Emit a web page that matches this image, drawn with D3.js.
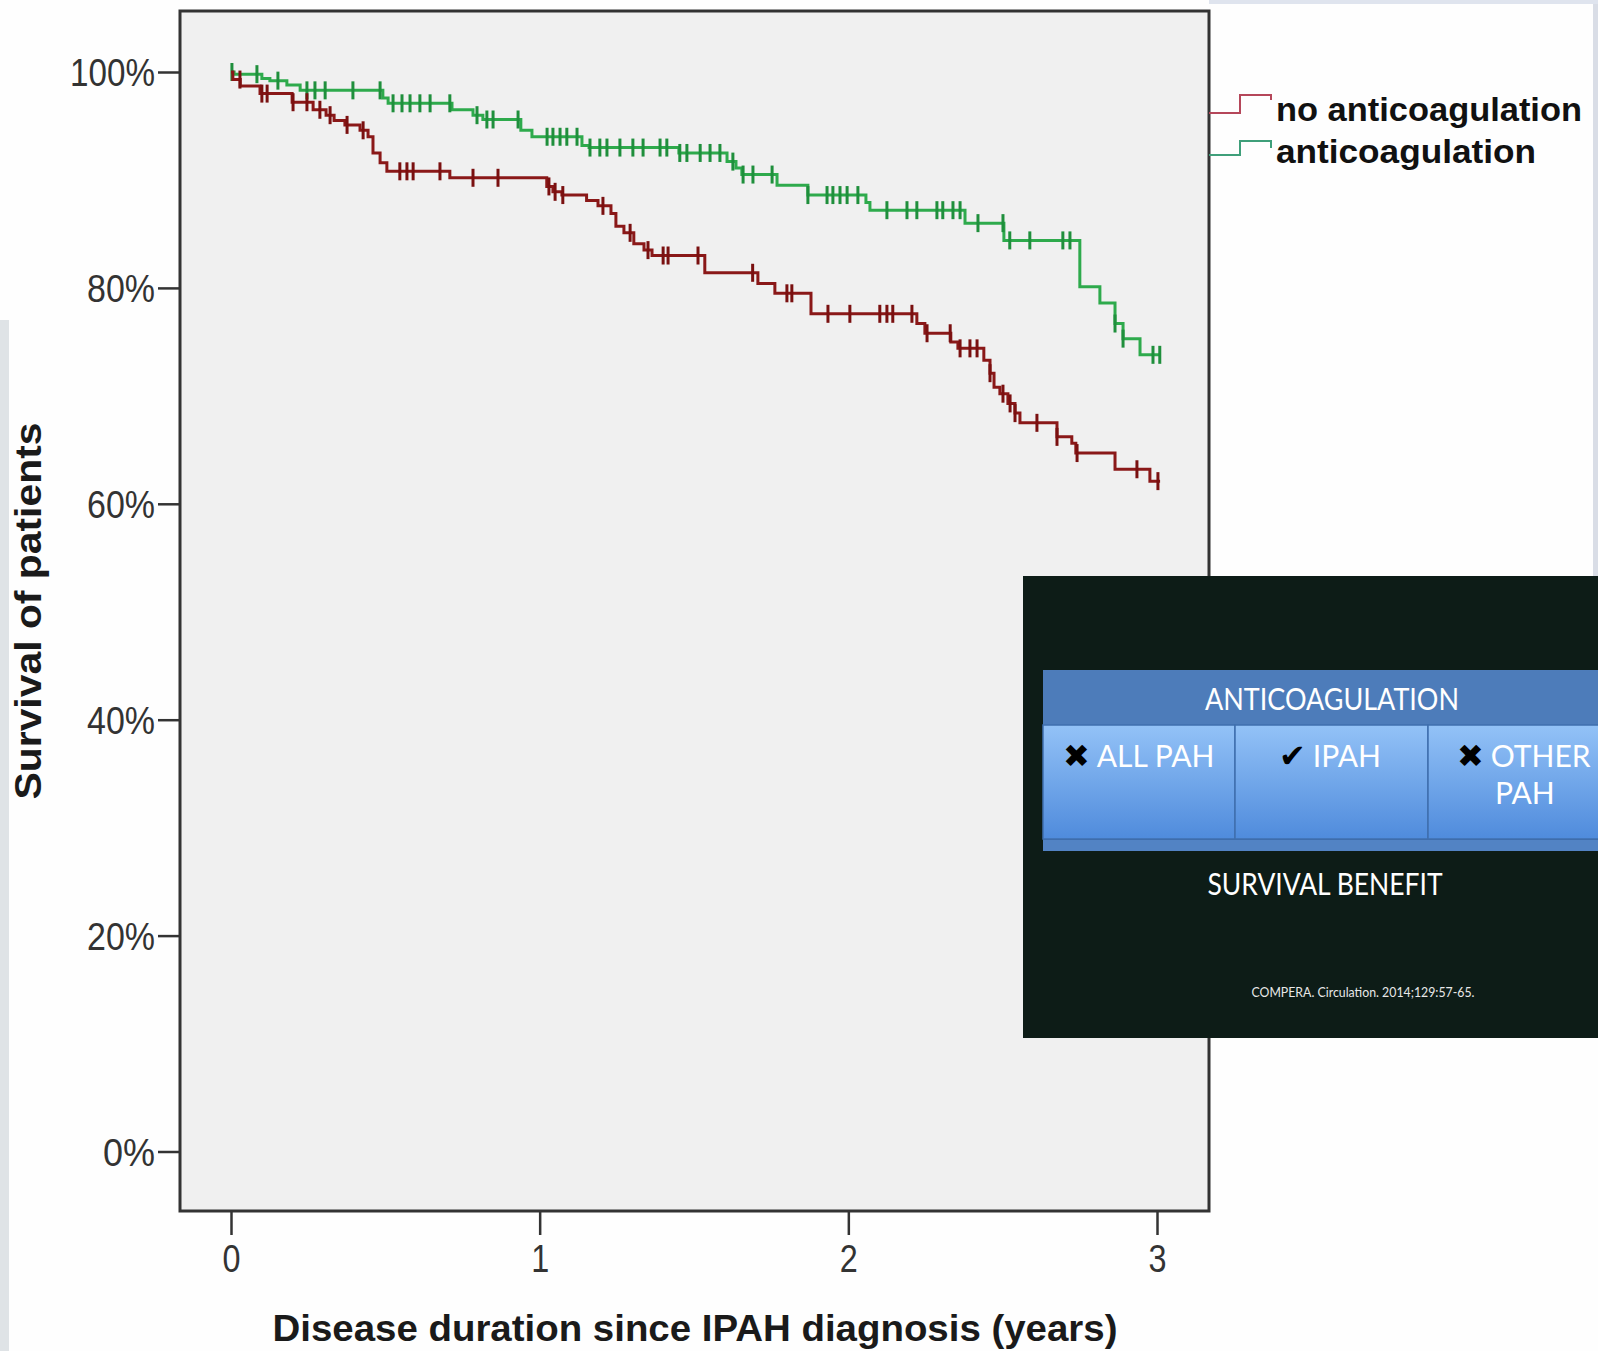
<!DOCTYPE html>
<html>
<head>
<meta charset="utf-8">
<script src="https://cdnjs.cloudflare.com/ajax/libs/d3/7.8.5/d3.min.js"></script>
<style>
  body { margin: 0; background: #fefefe; }
  svg { display: block; }
</style>
</head>
<body>
<div id="chart"></div>
<script>
// Kaplan-Meier step points: time (years) and survival (%) after each step
var redTimes = [0, 0.006, 0.03, 0.094, 0.198, 0.266, 0.308, 0.334, 0.369, 0.418, 0.444, 0.46, 0.483, 0.505, 0.709,
  1.023, 1.043, 1.072, 1.152, 1.189, 1.231, 1.247, 1.273, 1.305, 1.338, 1.364, 1.535, 1.707, 1.762, 1.879,
  2.222, 2.248, 2.332, 2.355, 2.439, 2.459, 2.472, 2.491, 2.517, 2.54, 2.556, 2.676, 2.724, 2.737, 2.864, 2.977, 3.01];
var redSurv = [100, 99.3, 98.7, 98.0, 97.2, 96.5, 96.0, 95.5, 95.1, 94.6, 94.0, 92.5, 91.6, 90.8, 90.2,
  89.4, 88.9, 88.6, 88.1, 87.6, 86.9, 85.7, 85.1, 84.1, 83.5, 83.0, 81.4, 80.4, 79.5, 77.6,
  76.7, 75.8, 75.0, 74.4, 73.3, 72.1, 70.8, 70.2, 69.3, 68.4, 67.5, 66.2, 65.6, 64.7, 63.2, 62.1, 62.1];

var greenTimes = [0, 0.01, 0.1, 0.126, 0.181, 0.224, 0.492, 0.509, 0.716, 0.784, 0.816, 0.939, 0.975, 1.137, 1.16,
  1.451, 1.607, 1.636, 1.655, 1.769, 1.869, 2.057, 2.07, 2.378, 2.504, 2.75, 2.815, 2.864, 2.89, 2.945, 3.01];
var greenSurv = [100, 99.8, 99.4, 99.2, 98.8, 98.3, 97.6, 97.1, 96.5, 96.0, 95.6, 94.6, 94.0, 93.2, 93.0,
  92.5, 91.7, 91.1, 90.5, 89.5, 88.6, 87.9, 87.2, 86.0, 84.4, 80.1, 78.6, 76.7, 75.3, 73.8, 73.8];

// censored observations (years)
var redCensor = [0.029, 0.10, 0.117, 0.201, 0.246, 0.288, 0.321, 0.376, 0.428, 0.547, 0.57, 0.59, 0.677, 0.784, 0.865,
  1.03, 1.05, 1.075, 1.205, 1.293, 1.351, 1.4, 1.416, 1.513, 1.69, 1.801, 1.817, 1.934, 2.005, 2.102, 2.125, 2.144,
  2.206, 2.255, 2.33, 2.362, 2.394, 2.417, 2.459, 2.501, 2.524, 2.54, 2.611, 2.676, 2.741, 2.935, 3.003];
var greenCensor = [0.003, 0.084, 0.152, 0.246, 0.272, 0.305, 0.395, 0.483, 0.525, 0.554, 0.58, 0.612, 0.645, 0.709,
  0.797, 0.829, 0.849, 0.93, 1.024, 1.043, 1.066, 1.088, 1.121, 1.163, 1.195, 1.218, 1.26, 1.302, 1.335, 1.39, 1.412,
  1.454, 1.477, 1.52, 1.552, 1.584, 1.626, 1.659, 1.691, 1.753, 1.869, 1.931, 1.95, 1.973, 1.996, 2.031, 2.125,
  2.19, 2.222, 2.287, 2.306, 2.339, 2.362, 2.42, 2.501, 2.523, 2.588, 2.695, 2.718, 2.864, 2.89, 2.987, 3.009];

var xTicks = [0, 1, 2, 3];
var yTicks = [0, 20, 40, 60, 80, 100];
var yTickLabels = ['0%', '20%', '40%', '60%', '80%', '100%'];
var seriesNames = ['no anticoagulation', 'anticoagulation'];
var boxHeader = 'ANTICOAGULATION';
var boxCells = [['\u2716 ALL PAH'], ['\u2714 IPAH'], ['\u2716 OTHER', 'PAH']];
var boxFooter = 'SURVIVAL BENEFIT';
var boxSource = 'COMPERA. Circulation. 2014;129:57-65.';

var W = 1598, H = 1351;
var plot = {left: 180, top: 11, right: 1209, bottom: 1211};

var svg = d3.select('#chart').append('svg')
    .attr('width', W)
    .attr('height', H);

var xScale = d3.scaleLinear().domain([0, 3]).range([231, 1157]),
    yScale = d3.scaleLinear().domain([0, 100]).range([1151.5, 72]);

// slide background slivers at the edges
svg.append('rect').attr('x', 0).attr('y', 320).attr('width', 9).attr('height', H - 320).style('fill', '#dfe3e6');
svg.append('rect').attr('x', 1593).attr('y', 0).attr('width', 5).attr('height', 580).style('fill', '#d9dde6');
svg.append('rect').attr('x', 1209).attr('y', 0).attr('width', 389).attr('height', 4).style('fill', '#dfe4ee');

// plot panel
svg.append('rect')
    .attr('x', plot.left)
    .attr('y', plot.top)
    .attr('width', plot.right - plot.left)
    .attr('height', plot.bottom - plot.top)
    .style('fill', '#f0f0f0')
    .style('stroke', '#333')
    .style('stroke-width', 3);

// axes
var yAxis = svg.append('g')
    .attr('transform', 'translate(' + plot.left + ',0)')
    .call(d3.axisLeft(yScale).tickValues(yTicks).tickSize(22).tickPadding(3)
      .tickFormat(function(d, i) { return yTickLabels[i]; }));
yAxis.select('.domain').remove();
yAxis.selectAll('line').style('stroke', '#333').style('stroke-width', 2.5);
yAxis.selectAll('text')
    .style('font-family', 'Liberation Sans, Arial, sans-serif')
    .style('font-size', '38px')
    .style('fill', '#333')
    .attr('dy', '0.36em')
    .attr('lengthAdjust', 'spacingAndGlyphs')
    .attr('textLength', function(d) { return d === 100 ? 85 : (d === 0 ? 52 : 68); });

var xAxis = svg.append('g')
    .attr('transform', 'translate(0,' + plot.bottom + ')')
    .call(d3.axisBottom(xScale).tickValues(xTicks).tickSize(24).tickPadding(10).tickFormat(d3.format('d')));
xAxis.select('.domain').remove();
xAxis.selectAll('line').style('stroke', '#333').style('stroke-width', 2.5);
xAxis.selectAll('text')
    .style('font-family', 'Liberation Sans, Arial, sans-serif')
    .style('font-size', '38px')
    .style('fill', '#333')
    .attr('lengthAdjust', 'spacingAndGlyphs')
    .attr('textLength', 18);

svg.append('text')
    .attr('x', 695)
    .attr('y', 1341)
    .style('font-family', 'Liberation Sans, Arial, sans-serif')
    .style('font-weight', 'bold')
    .style('font-size', '37px')
    .style('fill', '#1a1a1a')
    .style('text-anchor', 'middle')
    .attr('lengthAdjust', 'spacingAndGlyphs')
    .attr('textLength', 845)
    .text('Disease duration since IPAH diagnosis (years)');

svg.append('text')
    .attr('transform', 'translate(41,611) rotate(-90)')
    .style('font-family', 'Liberation Sans, Arial, sans-serif')
    .style('font-weight', 'bold')
    .style('font-size', '37px')
    .style('fill', '#1a1a1a')
    .style('text-anchor', 'middle')
    .attr('lengthAdjust', 'spacingAndGlyphs')
    .attr('textLength', 377)
    .text('Survival of patients');

// survival curves
var stepLine = d3.line()
    .x(function(d) { return xScale(d[0]); })
    .y(function(d) { return yScale(d[1]); })
    .curve(d3.curveStepAfter);

function survAt(times, surv, t) {
  var v = surv[0];
  for (var i = 0; i < times.length; i++) { if (times[i] <= t) v = surv[i]; }
  return v;
}

var series = [
  {name: seriesNames[0], times: redTimes, surv: redSurv, censor: redCensor, colour: '#8a1818', mark: '#7a1010'},
  {name: seriesNames[1], times: greenTimes, surv: greenSurv, censor: greenCensor, colour: '#2eaa4c', mark: '#1f8f3c'}
];

// draw green first so the red curve is on top where they overlap near 0
series.slice().reverse().forEach(function(s) {
  var pts = s.times.map(function(t, i) { return [t, s.surv[i]]; });
  svg.append('path')
      .datum(pts)
      .attr('d', stepLine)
      .style('fill', 'none')
      .style('stroke', s.colour)
      .style('stroke-width', 3);

  svg.append('g').selectAll('line')
      .data(s.censor)
    .enter().append('line')
      .attr('x1', function(d) { return xScale(d); })
      .attr('x2', function(d) { return xScale(d); })
      .attr('y1', function(d) { return yScale(survAt(s.times, s.surv, d)) - 9; })
      .attr('y2', function(d) { return yScale(survAt(s.times, s.surv, d)) + 9; })
      .style('stroke', s.mark)
      .style('stroke-width', 3);
});

// legend
var legendY = [[113, 95, 100, 121], [155, 141, 148, 163]];
var legendColours = ['#b5475a', '#3f9f7a'];
seriesNames.forEach(function(name, i) {
  var ly = legendY[i];
  svg.append('path')
      .attr('d', 'M1209,' + ly[0] + 'H1240V' + ly[1] + 'H1271V' + ly[2])
      .style('fill', 'none')
      .style('stroke', legendColours[i])
      .style('stroke-width', 2);
  svg.append('text')
      .attr('x', 1276)
      .attr('y', ly[3])
      .style('font-family', 'Liberation Sans, Arial, sans-serif')
      .style('font-weight', 'bold')
      .style('font-size', '34px')
      .style('fill', '#111')
      .attr('lengthAdjust', 'spacingAndGlyphs')
      .attr('textLength', i === 0 ? 306 : 260)
      .text(name);
});

// overlay box from the slide
var box = svg.append('g');
box.append('rect')
    .attr('x', 1023).attr('y', 576).attr('width', W - 1023).attr('height', 462)
    .style('fill', '#0d1c17');

var defs = svg.append('defs');
var grad = defs.append('linearGradient').attr('id', 'cellGrad').attr('x1', 0).attr('y1', 0).attr('x2', 0).attr('y2', 1);
grad.append('stop').attr('offset', '0%').attr('stop-color', '#93c2f7');
grad.append('stop').attr('offset', '100%').attr('stop-color', '#4f8bdc');

box.append('rect')
    .attr('x', 1043).attr('y', 670).attr('width', W - 1043).attr('height', 55)
    .style('fill', '#4d7cba');
box.append('rect')
    .attr('x', 1043).attr('y', 839).attr('width', W - 1043).attr('height', 12)
    .style('fill', '#5283c4');
box.append('line')
    .attr('x1', 1043).attr('x2', W).attr('y1', 839).attr('y2', 839)
    .style('stroke', '#3d6aa6').style('stroke-width', 2);

var cellX = [1043, 1235, 1428, 1620];
var cellTextX = [1063, 1279, 1457];
boxCells.forEach(function(lines, i) {
  box.append('rect')
      .attr('x', cellX[i]).attr('y', 725)
      .attr('width', cellX[i + 1] - cellX[i]).attr('height', 114)
      .style('fill', 'url(#cellGrad)')
      .style('stroke', '#3f6fae')
      .style('stroke-width', 1.5);
  lines.forEach(function(line, j) {
    var parts = line.split(' ');
    var mark = (parts[0] === '\u2716' || parts[0] === '\u2714');
    var t = box.append('text')
        .attr('x', j === 0 ? cellTextX[i] : cellTextX[i] + 38)
        .attr('y', 767 + j * 37)
        .style('font-family', 'Lato, Open Sans, sans-serif')
        .style('font-size', '30px')
        .style('fill', '#fff');
    if (j === 0 && mark) {
      t.append('tspan')
          .style('font-family', 'DejaVu Sans, sans-serif')
          .style('font-size', '32px')
          .style('fill', '#000')
          .text(parts[0]);
      t.append('tspan').attr('dx', 7).text(parts.slice(1).join(' '));
    } else {
      t.text(line);
    }
  });
});

box.append('text')
    .attr('x', 1332).attr('y', 710)
    .style('font-family', 'Lato, Open Sans, sans-serif')
    .style('font-size', '31px')
    .style('fill', '#fff')
    .style('text-anchor', 'middle')
    .attr('lengthAdjust', 'spacingAndGlyphs')
    .attr('textLength', 254)
    .text(boxHeader);

box.append('text')
    .attr('x', 1325).attr('y', 895)
    .style('font-family', 'Lato, Open Sans, sans-serif')
    .style('font-size', '31px')
    .style('fill', '#fff')
    .style('text-anchor', 'middle')
    .attr('lengthAdjust', 'spacingAndGlyphs')
    .attr('textLength', 235)
    .text(boxFooter);

box.append('text')
    .attr('x', 1363).attr('y', 997)
    .style('font-family', 'Lato, Open Sans, sans-serif')
    .style('font-size', '13px')
    .style('fill', '#e8e8e8')
    .style('text-anchor', 'middle')
    .attr('lengthAdjust', 'spacingAndGlyphs')
    .attr('textLength', 223)
    .text(boxSource);
</script>
</body>
</html>
